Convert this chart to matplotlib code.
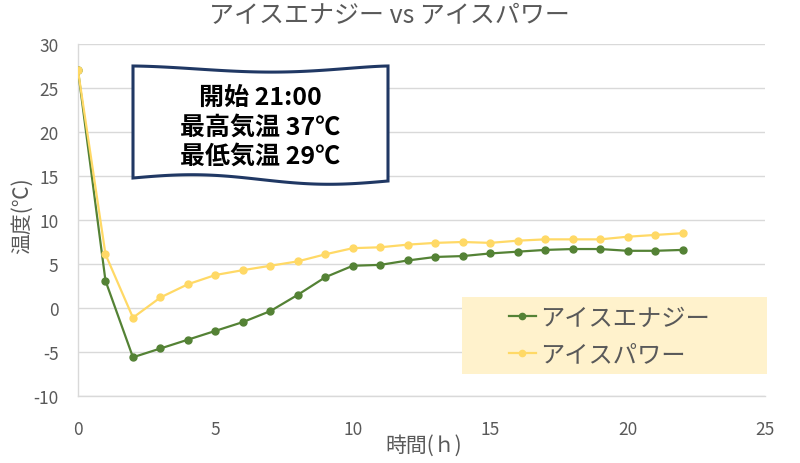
import numpy as np
import matplotlib
matplotlib.use("Agg")
import matplotlib.pyplot as plt
from matplotlib.path import Path
from matplotlib.patches import PathPatch, Rectangle
from matplotlib.lines import Line2D

plt.rcParams['font.family'] = ['Noto Sans CJK JP', 'DejaVu Sans']
plt.rcParams['axes.unicode_minus'] = False

hours = list(range(0, 23))
energy = [27, 3.1, -5.6, -4.6, -3.6, -2.6, -1.6, -0.35, 1.5, 3.5, 4.8, 4.9, 5.4,
          5.8, 5.9, 6.2, 6.4, 6.6, 6.7, 6.7, 6.5, 6.5, 6.6]
power = [27, 6.1, -1.1, 1.2, 2.7, 3.75, 4.3, 4.8, 5.3, 6.1, 6.8, 6.9, 7.2,
         7.4, 7.5, 7.4, 7.65, 7.8, 7.8, 7.8, 8.1, 8.3, 8.5]
series_names = ['アイスエナジー', 'アイスパワー']
title = 'アイスエナジー vs アイスパワー'
flag_lines = ['開始 21:00', '最高気温 37℃', '最低気温 29℃']
xticks = [0, 5, 10, 15, 20, 25]
yticks = [-10, -5, 0, 5, 10, 15, 20, 25, 30]

GREEN = '#548235'
YELLOW = '#FFD966'
GRAY = '#595959'

W, H = 800, 464
fig = plt.figure(figsize=(W / 100, H / 100), dpi=100)
ax = fig.add_axes([78 / W, 1 - 397 / H, (765 - 78) / W, (397 - 45) / H])

ax.plot(hours, energy, color=GREEN, lw=1.6, marker='o', ms=5, zorder=3)
ax.plot(hours, power, color=YELLOW, lw=1.6, marker='o', ms=5, zorder=3)

ax.set_xlim(0, 25)
ax.set_ylim(-10, 30)
ax.set_xticks(xticks)
ax.set_yticks(yticks)
ax.tick_params(length=0, labelsize=12.5, colors=GRAY)
ax.tick_params(axis='y', pad=14)
ax.tick_params(axis='x', pad=17)
ax.grid(axis='y', color='#D9D9D9', lw=1)
ax.set_axisbelow(True)
for s in ['top', 'right']:
    ax.spines[s].set_visible(False)
for s in ['left', 'bottom']:
    ax.spines[s].set_color('#D9D9D9')
    ax.spines[s].set_linewidth(1)

fig.text(389 / W, 1 - 16 / H, title, ha='center', va='center', fontsize=18, color=GRAY)
fig.text(22 / W, 1 - 216 / H, '温度(℃)', rotation=90, ha='center', va='center',
         fontsize=15, color=GRAY)
fig.text(424 / W, 1 - 446 / H, '時間(ｈ)', ha='center', va='center', fontsize=15, color=GRAY)

# wavy flag
def fp(px, py):
    return (px / W, 1 - py / H)

xl, xr = 133, 388
t = np.linspace(0, 1, 80)
top_y = 67 + 8 * np.sin(np.pi * t) ** 1.5 * (0.5 + 0.5 * t)
bot_y = 179 - 4 * np.sin(2 * np.pi * t) + 3 * t
xs = xl + (xr - xl) * t
verts = [fp(x, y) for x, y in zip(xs, top_y)]
verts += [fp(x, y) for x, y in zip(xs[::-1], bot_y[::-1])]
verts.append(verts[0])
codes = [Path.MOVETO] + [Path.LINETO] * (len(verts) - 2) + [Path.CLOSEPOLY]
flag = PathPatch(Path(verts, codes), facecolor='white', edgecolor='#203864', lw=2.2,
                 transform=fig.transFigure, zorder=5)
fig.patches.append(flag)
for i, line in enumerate(flag_lines):
    fig.text(260 / W, 1 - (98 + 29.5 * i) / H, line, ha='center', va='center',
             fontsize=18, fontweight='bold', color='black', zorder=6)

# legend
rect = Rectangle(fp(462, 375), 305 / W, 77 / H, transform=fig.transFigure,
                 facecolor='#FFF2CC', edgecolor='none', zorder=4)
fig.patches.append(rect)
handles = [Line2D([], [], color=GREEN, lw=1.6, marker='o', ms=4.5),
           Line2D([], [], color=YELLOW, lw=1.6, marker='o', ms=4.5)]
leg = fig.legend(handles, series_names, loc='center left',
                 bbox_to_anchor=(487 / W, 1 - 337 / H), frameon=False,
                 fontsize=17.5, handlelength=1.1, handletextpad=0.2, labelspacing=0.45,
                 labelcolor=GRAY)
leg.set_zorder(6)

fig.savefig('out.png', dpi=100)
